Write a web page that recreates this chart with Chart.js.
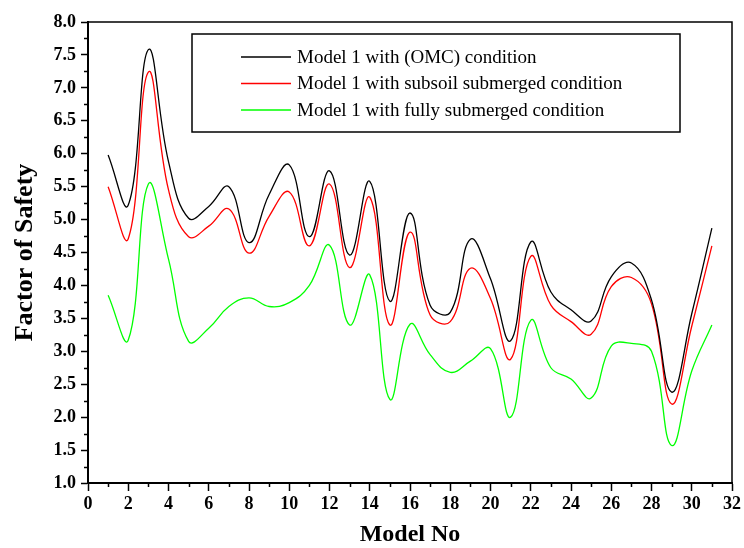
<!DOCTYPE html>
<html>
<head>
<meta charset="utf-8">
<script src="https://cdn.jsdelivr.net/npm/chart.js@4/dist/chart.umd.min.js"></script>
<style>
  html, body { margin: 0; padding: 0; background: #fff; }
  #wrap { width: 744px; height: 548px; }
</style>
</head>
<body>
<div id="wrap"><canvas id="c" width="744" height="548"></canvas></div>
<script>
const modelNo = [1,2,3,4,5,6,7,8,9,10,11,12,13,14,15,16,17,18,19,20,21,22,23,24,25,26,27,28,29,30,31];
const seriesNames = [
  'Model 1 with (OMC) condition',
  'Model 1 with subsoil submerged condition',
  'Model 1 with fully submerged condition'
];
const omcValues = [5.98,5.22,7.58,5.88,5.02,5.20,5.50,4.65,5.38,5.83,4.74,5.74,4.46,5.58,3.76,5.10,3.70,3.59,4.70,4.10,3.16,4.66,3.90,3.63,3.46,4.13,4.34,3.78,2.38,3.57,4.87];
const subsoilValues = [5.50,4.71,7.24,5.45,4.74,4.90,5.16,4.49,5.05,5.42,4.60,5.54,4.27,5.34,3.40,4.81,3.55,3.45,4.26,3.80,2.88,4.44,3.70,3.45,3.26,3.98,4.12,3.72,2.20,3.38,4.60];
const fullyValues = [3.85,3.17,5.54,4.40,3.15,3.35,3.68,3.81,3.68,3.74,4.00,4.61,3.40,4.16,2.27,3.41,2.95,2.68,2.85,3.04,2.00,3.47,2.75,2.58,2.29,3.08,3.12,3.00,1.57,2.70,3.40];
const seriesColors = ['#000000', '#ff0000', '#00ff00'];
const xTicks = [0,2,4,6,8,10,12,14,16,18,20,22,24,26,28,30,32];
const yTicks = [1.0,1.5,2.0,2.5,3.0,3.5,4.0,4.5,5.0,5.5,6.0,6.5,7.0,7.5,8.0];

const toPts = vals => modelNo.map((m, i) => ({x: m, y: vals[i]}));
const allValues = [omcValues, subsoilValues, fullyValues];

const frameAndMinorTicks = {
  id: 'frameAndMinorTicks',
  afterDraw(chart) {
    const {ctx, chartArea: {left, right, top, bottom}, scales: {x, y}} = chart;
    ctx.save();
    ctx.strokeStyle = '#000';
    ctx.lineWidth = 1.5;
    ctx.beginPath();
    ctx.moveTo(left, top); ctx.lineTo(right, top); ctx.lineTo(right, bottom);
    ctx.stroke();
    ctx.beginPath();
    for (let i = 0; i < xTicks.length - 1; i++) {
      const px = Math.round(x.getPixelForValue((xTicks[i] + xTicks[i + 1]) / 2)) + 0.5;
      ctx.moveTo(px, bottom); ctx.lineTo(px, bottom + 4);
    }
    for (let i = 0; i < yTicks.length - 1; i++) {
      const py = Math.round(y.getPixelForValue((yTicks[i] + yTicks[i + 1]) / 2)) + 0.5;
      ctx.moveTo(left, py); ctx.lineTo(left - 4, py);
    }
    ctx.stroke();
    ctx.restore();
  }
};

const boxLegend = {
  id: 'boxLegend',
  afterDraw(chart) {
    const ctx = chart.ctx;
    ctx.save();
    ctx.strokeStyle = '#000';
    ctx.lineWidth = 1.5;
    ctx.strokeRect(192, 34, 488, 98);
    ctx.font = '19px "Liberation Serif", "Times New Roman", serif';
    ctx.textBaseline = 'middle';
    ctx.textAlign = 'left';
    const rowY = [57, 83.5, 110];
    chart.data.datasets.forEach((ds, i) => {
      ctx.strokeStyle = ds.borderColor;
      ctx.lineWidth = 1.3;
      ctx.beginPath();
      ctx.moveTo(241, rowY[i]); ctx.lineTo(291, rowY[i]);
      ctx.stroke();
      ctx.fillStyle = '#000';
      ctx.fillText(ds.label, 297, rowY[i] + 1);
    });
    ctx.restore();
  }
};

new Chart(document.getElementById('c'), {
  type: 'line',
  data: {
    datasets: seriesNames.map((name, i) => ({
      label: name,
      data: toPts(allValues[i]),
      borderColor: seriesColors[i],
      backgroundColor: seriesColors[i],
      borderWidth: 1.3,
      pointRadius: 0,
      tension: 0.42,
      fill: false
    }))
  },
  options: {
    responsive: false,
    animation: false,
    layout: { padding: { left: 0, top: 22, right: 12, bottom: 0 } },
    plugins: { legend: { display: false }, tooltip: { enabled: false } },
    scales: {
      x: {
        type: 'linear',
        min: 0, max: 32,
        afterBuildTicks: s => { s.ticks = xTicks.map(v => ({value: v})); },
        afterFit: s => { s.height = 65; },
        ticks: {
          color: '#000',
          padding: 3,
          maxRotation: 0,
          autoSkip: false,
          font: { family: '"Liberation Serif", "Times New Roman", serif', size: 18, weight: 'bold' },
          callback: v => String(v)
        },
        grid: { drawOnChartArea: false, drawTicks: true, tickLength: 8, tickColor: '#000', tickWidth: 1.5 },
        border: { display: true, color: '#000', width: 2 },
        title: {
          display: true, text: 'Model No', color: '#000',
          font: { family: '"Liberation Serif", "Times New Roman", serif', size: 24, weight: 'bold', lineHeight: 1 },
          padding: { top: 0, bottom: 1 }
        }
      },
      y: {
        type: 'linear',
        min: 1, max: 8,
        afterBuildTicks: s => { s.ticks = yTicks.map(v => ({value: v})); },
        afterFit: s => { s.width = 88; },
        ticks: {
          color: '#000',
          padding: 5,
          autoSkip: false,
          font: { family: '"Liberation Serif", "Times New Roman", serif', size: 18, weight: 'bold' },
          callback: v => Number(v).toFixed(1)
        },
        grid: { drawOnChartArea: false, drawTicks: true, tickLength: 7, tickColor: '#000', tickWidth: 1.5 },
        border: { display: true, color: '#000', width: 2 },
        title: {
          display: true, text: 'Factor of Safety', color: '#000',
          font: { family: '"Liberation Serif", "Times New Roman", serif', size: 26, weight: 'bold', lineHeight: 1 },
          padding: { top: 12, bottom: 0 }
        }
      }
    }
  },
  plugins: [frameAndMinorTicks, boxLegend]
});
</script>
</body>
</html>
